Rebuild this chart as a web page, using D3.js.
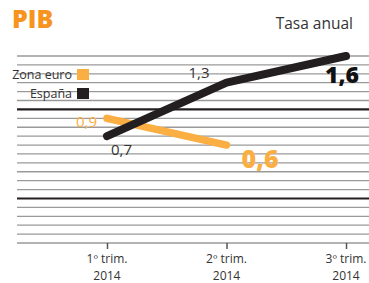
<!DOCTYPE html>
<html>
<head>
<meta charset="utf-8">
<script src="https://cdn.jsdelivr.net/npm/d3@7"></script>
<style>
  body { margin: 0; background: #fff; }
  svg { display: block; }
</style>
</head>
<body>
<svg id="chart" width="369" height="283"></svg>
<script>
// datos
const quarters = ['1º trim.', '2º trim.', '3º trim.'];
const years = ['2014', '2014', '2014'];
const espana = [0.7, 1.3, 1.6];
const zonaEuro = [0.9, 0.6];
const gridValues = d3.range(-5, 17).map(v => v / 10);

const width = 369;
const height = 283;
const sans = '"Open Sans", "DejaVu Sans", sans-serif';
const orange = '#fbae42';
const dark = '#231f20';

const svg = d3.select('#chart');

const x = d3.scalePoint()
	.domain(quarters)
	.range([107, 346]);

const y = d3.scaleLinear()
	.domain([-0.5, 1.6])
	.range([243, 56]);

// title
svg.append('text')
	.attr('x', 12)
	.attr('y', 28)
	.attr('fill', '#f7941e')
	.style('font-family', sans)
	.style('font-weight', '800')
	.style('font-size', '25px')
	.text('PIB');

svg.append('text')
	.attr('x', 353)
	.attr('y', 29)
	.attr('text-anchor', 'end')
	.attr('fill', '#333')
	.style('font-family', sans)
	.style('font-size', '15.5px')
	.text('Tasa anual');

// grid
const isThick = d => Math.abs(d) < 1e-9 || Math.abs(d - 1) < 1e-9;
svg.append('g')
	.selectAll('line')
	.data(gridValues)
	.enter().append('line')
	.attr('x1', 17)
	.attr('x2', width)
	.attr('y1', d => y(d))
	.attr('y2', d => y(d))
	.attr('stroke', d => isThick(d) ? '#231f20' : '#9a9a9a')
	.attr('stroke-width', d => isThick(d) ? 2.2 : 1.3);

// x axis
const xAxis = svg.append('g')
	.attr('transform', `translate(0,${y(-0.5)})`)
	.call(d3.axisBottom(x).tickSize(6).tickFormat(''));
xAxis.select('.domain').remove();
xAxis.selectAll('.tick line').attr('stroke', '#555').attr('stroke-width', 1.5);

const tickG = svg.append('g')
	.attr('fill', '#333')
	.style('font-family', sans)
	.style('font-size', '12px')
	.attr('text-anchor', 'middle');

tickG.selectAll('.q')
	.data(quarters)
	.enter().append('text')
	.attr('class', 'q')
	.attr('x', d => x(d))
	.attr('y', 263)
	.text(d => d);

tickG.selectAll('.yr')
	.data(years)
	.enter().append('text')
	.attr('class', 'yr')
	.attr('x', (d, i) => x(quarters[i]))
	.attr('y', 279.5)
	.text(d => d);

// lines
const line = d3.line()
	.x((d, i) => x(quarters[i]))
	.y(d => y(d));

svg.append('path')
	.datum(zonaEuro)
	.attr('d', line)
	.attr('fill', 'none')
	.attr('stroke', orange)
	.attr('stroke-width', 7.5)
	.attr('stroke-linecap', 'round')
	.attr('stroke-linejoin', 'round');

svg.append('path')
	.datum(espana)
	.attr('d', line)
	.attr('fill', 'none')
	.attr('stroke', dark)
	.attr('stroke-width', 8)
	.attr('stroke-linecap', 'round')
	.attr('stroke-linejoin', 'round');

const fmt = v => d3.format('.1f')(v).replace('.', ',');

// value labels
const labels = [
	{ v: zonaEuro[0], i: 0, dx: -10, dy: 9, anchor: 'end', color: orange, size: 15, bold: false },
	{ v: zonaEuro[1], i: 1, dx: 15, dy: 23, anchor: 'start', color: orange, size: 25, bold: true },
	{ v: espana[0], i: 0, dx: 4, dy: 19, anchor: 'start', color: '#333', size: 15, bold: false },
	{ v: espana[1], i: 1, dx: -17, dy: -5, anchor: 'end', color: '#333', size: 15, bold: false },
	{ v: espana[2], i: 2, dx: 13, dy: 27, anchor: 'end', color: '#111', size: 23, bold: true }
];

svg.append('g')
	.selectAll('text')
	.data(labels)
	.enter().append('text')
	.attr('x', d => x(quarters[d.i]) + d.dx)
	.attr('y', d => y(d.v) + d.dy)
	.attr('text-anchor', d => d.anchor)
	.attr('fill', d => d.color)
	.style('font-family', sans)
	.style('font-weight', d => d.bold ? '800' : '400')
	.style('font-size', d => d.size + 'px')
	.text(d => fmt(d.v));

// legend
const legend = [
	{ name: 'Zona euro', color: orange, y: 79 },
	{ name: 'España', color: dark, y: 98 }
];

const lg = svg.append('g')
	.selectAll('g')
	.data(legend)
	.enter().append('g');

lg.append('text')
	.attr('x', 72)
	.attr('y', d => d.y)
	.attr('text-anchor', 'end')
	.attr('fill', '#333')
	.style('font-family', sans)
	.style('font-size', '12.5px')
	.text(d => d.name);

lg.append('rect')
	.attr('x', 77)
	.attr('y', d => d.y - 10)
	.attr('width', 12)
	.attr('height', 11)
	.attr('fill', d => d.color);
</script>
</body>
</html>
